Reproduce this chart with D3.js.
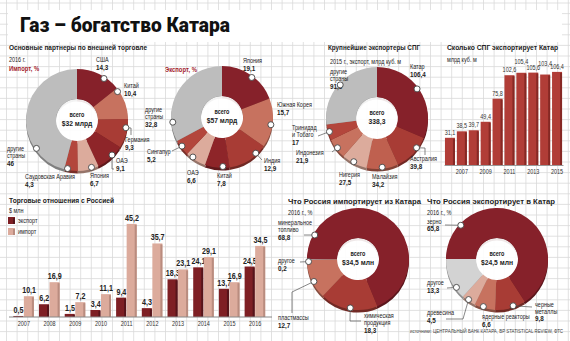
<!DOCTYPE html>
<html><head><meta charset="utf-8">
<script src="https://cdn.jsdelivr.net/npm/d3@7"></script>
<style>
html,body{margin:0;padding:0;background:#fff;}
svg{display:block;font-family:"Liberation Sans Narrow","Arial Narrow","Liberation Sans",Arial,sans-serif;}
</style></head><body>
<svg id="chart" width="570" height="341"></svg>
<script>
// ---- data ----
const importPartners = ["США","Китай","Германия","ОАЭ","Япония","Саудовская Аравия","другие страны"];
const importShares = [14.3,10.4,9.3,9.1,6.7,4.3,46];
const exportPartners = ["Япония","Южная Корея","Индия","Китай","ОАЭ","Сингапур","другие страны"];
const exportShares = [19.1,15.7,12.9,7.8,6.6,5.2,32.8];
const lngExporters = ["Катар","Австралия","Малайзия","Нигерия","Индонезия","Тринидад и Тобаго","другие страны"];
const lngVolumes = [106.4,39.8,34.2,27.5,21.9,17,91.5];
const lngYears = [2006,2007,2008,2009,2010,2011,2012,2013,2014,2015];
const qatarLng = [31.1,38.5,39.7,49.4,75.8,102.6,105.4,105.6,103.4,106.4];
const tradeYears = [2007,2008,2009,2010,2011,2012,2013,2014,2015,2016];
const russiaExport = [0.5,6.2,1.5,3.4,9.4,4.3,18.3,24.1,13.7,24.5];
const russiaImport = [10.1,16.9,7.2,11.1,45.2,35.7,23.1,29.1,16.9,34.5];
const ruImportGoods = ["минеральное топливо","химическая продукция","пластмассы","другое"];
const ruImportShares = [68.8,18.3,12.7,0.2];
const ruExportGoods = ["зерно","черные металлы","ядерные реакторы","древесина","другое"];
const ruExportShares = [65.8,9.8,6.6,4.5,13.3];

// ---- palette ----
const C = {dark:'#86212a', dark2:'#8e2529', med:'#a83c35', red:'#b3463c', salmon:'#c7725f',
           rose:'#bf604f', light:'#dcab9c', gray:'#bdbdbd', lgray:'#d3d3d3', accent:'#a3222b'};
const importColors = [C.dark, C.salmon, C.med, C.dark2, C.light, C.red, C.gray];
const exportColors = [C.dark, C.salmon, C.med, C.dark2, C.light, C.red, C.gray];
const lngColors = [C.dark, C.med, C.rose, C.light, C.salmon, C.red, C.gray];
const ruImportColors = [C.dark, C.med, C.salmon, C.gray];
const ruExportColors = [C.dark, C.med, C.salmon, C.light, C.lgray];

const fmt = v => String(v).replace('.', ',');
const W = 570, H = 341;
const svg = d3.select('#chart');

// graph-paper background
const grid = svg.append('g').attr('stroke','#d9d9d9').attr('stroke-width',0.8);
grid.selectAll('line.v').data(d3.range(6.5, W, 10.6)).join('line').attr('class','v')
  .attr('x1',d=>d).attr('x2',d=>d).attr('y1',0).attr('y2',H);
grid.selectAll('line.h').data(d3.range(3, H, 10.6)).join('line').attr('class','h')
  .attr('x1',0).attr('x2',W).attr('y1',d=>d).attr('y2',d=>d);

// headline
svg.append('rect').attr('x',8).attr('y',10).attr('width',554).attr('height',32).attr('fill','#fff');
svg.append('text').attr('x',20).attr('y',32).text('Газ – богатство Катара')
  .attr('font-family','Roboto, "Liberation Sans", sans-serif').attr('font-weight',900)
  .attr('font-size',21).attr('fill','#111').attr('textLength',210).attr('lengthAdjust','spacingAndGlyphs');

function txt(x, y, s, size, opts = {}) {
  const t = svg.append('text').attr('x',x).attr('y',y).text(s).attr('font-size',size)
    .attr('font-weight',opts.bold ? 'bold' : 'normal').attr('fill',opts.fill || '#222')
    .attr('text-anchor',opts.anchor || 'start');
  if (opts.w) t.attr('textLength', opts.w).attr('lengthAdjust','spacingAndGlyphs');
  return t;
}

// section headings
txt(9, 49.5, 'Основные партнеры по внешней торговле', 8, {bold:true, w:138});
txt(9, 61.5, '2016 г.', 6.5);
txt(9, 71, 'Импорт, %', 7, {bold:true, fill:C.accent});
txt(165, 71.5, 'Экспорт, %', 7, {bold:true, fill:C.accent});
txt(328, 49.5, 'Крупнейшие экспортеры СПГ', 8, {bold:true, w:92});
txt(330, 64, '2015 г., экспорт, млрд куб. м', 6.5);
txt(447, 49.5, 'Сколько СПГ экспортирует Катар', 8, {bold:true, w:111});
txt(447, 61.5, 'млрд куб. м', 6.5);
txt(9, 202.5, 'Торговые отношения с Россией', 8, {bold:true, w:105});
txt(9, 212.5, '$ млн', 6.5);
txt(288, 203.5, 'Что Россия импортирует из Катара', 8, {bold:true, w:133});
txt(288, 214.5, '2016 г., %', 6.5);
txt(427, 203.5, 'Что Россия экспортирует в Катар', 8, {bold:true, w:128});
txt(427, 214.5, '2016 г., %', 6.5);

// ---- donuts ----
const RIN = 21, ROUT = 51;
function drawDonut(o) {
  const pie = d3.pie().sort(null).value(d => d)
    .startAngle(o.start).endAngle(o.start + 2 * Math.PI);
  const arcs = pie(o.values);
  const arc = d3.arc().innerRadius(RIN).outerRadius(ROUT);
  const g = svg.append('g');
  // extruded underside
  g.append('g').attr('transform', `translate(${o.cx},${o.cy + 2.5})`)
    .selectAll('path').data(arcs).join('path').attr('d', arc)
    .attr('fill', (d, i) => d3.color(o.colors[i]).darker(1.1));
  g.append('circle').attr('cx', o.cx).attr('cy', o.cy).attr('r', RIN).attr('fill', '#fff').attr('opacity', 0.9);
  g.append('g').attr('transform', `translate(${o.cx},${o.cy})`)
    .selectAll('path').data(arcs).join('path').attr('d', arc)
    .attr('fill', (d, i) => o.colors[i]);
  // centre caption
  g.append('text').attr('x', o.cx).attr('y', o.cy - 3).attr('text-anchor', 'middle')
    .attr('font-size', 6.5).attr('font-weight', 'bold').attr('fill', '#222').text('всего');
  g.append('text').attr('x', o.cx).attr('y', o.cy + 6).attr('text-anchor', 'middle')
    .attr('font-size', 8).attr('font-weight', 'bold').attr('fill', '#222').text(o.total);
  // callouts
  o.layout.forEach((L, i) => {
    const a = L.a * Math.PI / 180, rr = ROUT - 1.5;
    const px = o.cx + rr * Math.sin(a), py = o.cy - rr * Math.cos(a);
    if (L.path) {
      const pts = [[px, py]].concat(L.path.map(p => [o.cx + p[0], o.cy + p[1]]));
      g.append('path').attr('d', d3.line()(pts)).attr('fill', 'none')
        .attr('stroke', '#555').attr('stroke-width', 0.7);
    }
    const words = o.names[i].split(' ');
    const lines = L.br ? [words.slice(0, L.br).join(' '), words.slice(L.br).join(' ')] : [o.names[i]];
    const t = g.append('text').attr('x', o.cx + L.x).attr('y', o.cy + L.y)
      .attr('text-anchor', L.anchor || 'start').attr('fill', '#222');
    lines.forEach((s, k) => t.append('tspan').attr('x', o.cx + L.x).attr('dy', k ? 7 : 0)
      .attr('font-size', 6.5).text(s));
    t.append('tspan').attr('x', o.cx + L.x).attr('dy', 7.5).attr('font-size', 7.5)
      .attr('font-weight', 'bold').text(fmt(o.values[i]));
    g.append('circle').attr('cx', px).attr('cy', py).attr('r', 3)
      .attr('fill', '#fff').attr('stroke', '#444').attr('stroke-width', 0.9);
  });
}

const TOP = 0, LEFT = -Math.PI / 2;
drawDonut({cx:77, cy:120, start:TOP, values:importShares, names:importPartners, colors:importColors,
  total:'$32 млрд', layout:[
  {a:33, x:19, y:-58}, {a:55, x:47, y:-32},
  {a:99, x:48, y:22, path:[[54,8],[54,15]]},
  {a:135, x:39, y:43, path:[[35,49],[37,49]]},
  {a:163, x:13, y:58}, {a:191, x:-52, y:59}, {a:235, x:-70, y:31, br:1}]});
drawDonut({cx:222, cy:117, start:TOP, values:exportShares, names:exportPartners, colors:exportColors,
  total:'$57 млрд', layout:[
  {a:37, x:21, y:-54}, {a:99, x:55, y:-10},
  {a:137, x:42, y:46, path:[[40,43]]},
  {a:179, x:-5, y:61}, {a:216, x:-35, y:58},
  {a:234, x:-75, y:37, path:[[-50,34]]},
  {a:264, x:-77, y:-5, br:1}]});
drawDonut({cx:377, cy:118, start:TOP, values:lngVolumes, names:lngExporters, colors:lngColors,
  total:'338,3', layout:[
  {a:54, x:33, y:-49},
  {a:127, x:33, y:43, path:[[48,30],[48,37]]},
  {a:174, x:-5, y:61}, {a:208, x:-38, y:59},
  {a:233, x:-81, y:37, path:[[-45,34]]},
  {a:254, x:-85, y:12, br:1, path:[[-59,18]]},
  {a:312, x:-47, y:-44, br:1}]});
drawDonut({cx:358, cy:259, start:LEFT, values:ruImportShares, names:ruImportGoods, colors:ruImportColors,
  total:'$34,5 млн', layout:[
  {a:299, x:-80, y:-34, br:1, path:[[-54,-24]]},
  {a:189, x:6, y:59, br:1, path:[[-8,62],[3,62]]},
  {a:243, x:-80, y:61, path:[[-66,33],[-66,54]]},
  {a:267, x:-80, y:4, path:[[-58,3]]}]});
drawDonut({cx:497, cy:259, start:LEFT, values:ruExportShares, names:ruExportGoods, colors:ruExportColors,
  total:'$24,5 млн', layout:[
  {a:313, x:-70, y:-35.5, path:[[-52,-34]]},
  {a:161, x:38, y:47.5, br:1, path:[[35,48]]},
  {a:196, x:-15, y:60},
  {a:215, x:-70, y:56, path:[[-34,60],[-51,60]]},
  {a:235, x:-70, y:26, path:[[-50,29]]}]});

// ---- Qatar LNG exports by year ----
const lx = d3.scaleBand().domain(lngYears).range([444, 563]).paddingInner(0.16).paddingOuter(0.08);
const ly = d3.scaleLinear().domain([0, 120]).range([165, 60]);
const lg = svg.append('g');
lg.selectAll('rect.bar').data(qatarLng).join('rect').attr('class','bar')
  .attr('x', (d, i) => lx(lngYears[i])).attr('y', d => ly(d))
  .attr('width', lx.bandwidth()).attr('height', d => ly(0) - ly(d)).attr('fill', '#b13d37');
lg.selectAll('rect.side').data(qatarLng).join('rect').attr('class','side')
  .attr('x', (d, i) => lx(lngYears[i]) + lx.bandwidth() - 2).attr('y', d => ly(d) + 1)
  .attr('width', 2).attr('height', d => ly(0) - ly(d) - 1).attr('fill', '#862824');
lg.selectAll('text.val').data(qatarLng).join('text').attr('class','val')
  .attr('x', (d, i) => lx(lngYears[i]) + lx.bandwidth() / 2)
  .attr('y', (d, i) => ly(d) - 3 - ((i === 6 || i === 8) ? 6 : 0))
  .attr('text-anchor', 'middle').attr('font-size', 6.5).attr('fill', '#333').text(fmt);
const lAxis = lg.append('g').attr('transform', 'translate(0,165)')
  .call(d3.axisBottom(lx).tickValues(lngYears.filter(y => y % 2 === 1)).tickSize(0).tickPadding(4));
lAxis.select('.domain').attr('stroke', '#999');
lAxis.selectAll('text').attr('font-size', 6.5).attr('fill', '#333').attr('font-family', null);

// ---- trade with Russia ----
const tx = d3.scaleBand().domain(tradeYears).range([11, 268]).paddingInner(0.18).paddingOuter(0.09);
const ts = d3.scaleBand().domain(['export', 'import']).range([0, tx.bandwidth()]);
const ty = d3.scaleLinear().domain([0, 50]).range([317, 214]);
const tg = svg.append('g');
const series = [
  {key:'export', vals:russiaExport, fill:'#7e1f24', side:'#56141a'},
  {key:'import', vals:russiaImport, fill:'#dcab9c', side:'#b98c7f'}];
series.forEach(s => {
  const sg = tg.append('g');
  sg.selectAll('rect.b').data(s.vals).join('rect').attr('class','b')
    .attr('x', (d, i) => tx(tradeYears[i]) + ts(s.key)).attr('y', d => ty(d))
    .attr('width', ts.bandwidth() - 0.5).attr('height', d => ty(0) - ty(d)).attr('fill', s.fill);
  sg.selectAll('rect.s').data(s.vals).join('rect').attr('class','s')
    .attr('x', (d, i) => tx(tradeYears[i]) + ts(s.key) + ts.bandwidth() - 2.5).attr('y', d => ty(d) + 1)
    .attr('width', 2).attr('height', d => Math.max(0, ty(0) - ty(d) - 1)).attr('fill', s.side);
  sg.selectAll('text').data(s.vals).join('text')
    .attr('x', (d, i) => tx(tradeYears[i]) + ts(s.key) + ts.bandwidth() / 2).attr('y', d => ty(d) - 3)
    .attr('text-anchor', 'middle').attr('font-size', 8.5).attr('font-weight', 'bold').attr('fill', '#222').text(fmt);
});
const tAxis = tg.append('g').attr('transform', 'translate(0,317)')
  .call(d3.axisBottom(tx).tickSize(0).tickPadding(4));
tAxis.select('.domain').attr('stroke', '#888').attr('d', 'M9,0H272');
tAxis.selectAll('text').attr('font-size', 6.5).attr('fill', '#333').attr('font-family', null);

// legend
[['экспорт', series[0]], ['импорт', series[1]]].forEach(([label, s], k) => {
  const y = 217 + k * 11;
  svg.append('rect').attr('x', 8).attr('y', y).attr('width', 7).attr('height', 7).attr('fill', s.fill);
  svg.append('rect').attr('x', 13).attr('y', y + 1).attr('width', 2).attr('height', 6).attr('fill', s.side);
  txt(18, y + 6, label, 6.5);
});

// sources
txt(410, 333, 'источники: ЦЕНТРАЛЬНЫЙ БАНК КАТАРА, BP STATISTICAL REVIEW, ФТС', 5.5, {fill:'#444', w:153});

// condense the regular sans to a narrow face
const NARROW = 0.84;
svg.selectAll('text').each(function () {
  const el = d3.select(this);
  if (el.attr('textLength')) return;
  const spans = el.selectAll('tspan');
  const targets = spans.size() ? spans.nodes() : [this];
  targets.forEach(n => {
    const L = n.getComputedTextLength();
    d3.select(n).attr('textLength', L * NARROW).attr('lengthAdjust', 'spacingAndGlyphs');
  });
});
</script>
</body></html>
